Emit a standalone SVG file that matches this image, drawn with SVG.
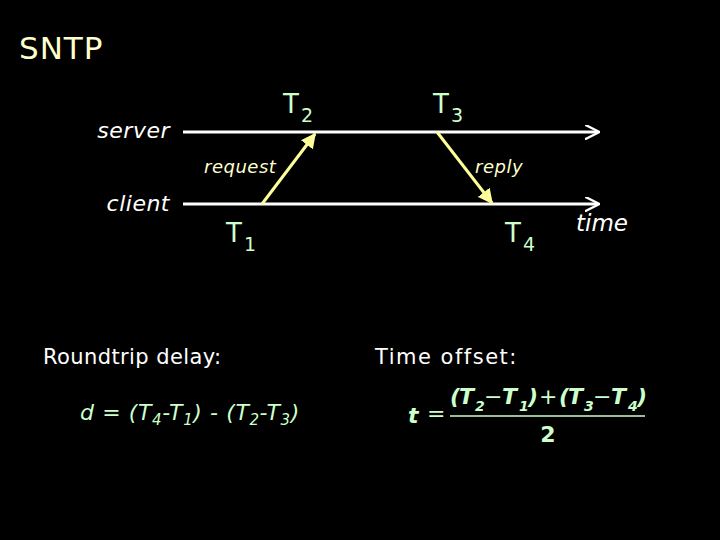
<svg xmlns="http://www.w3.org/2000/svg" width="720" height="540" viewBox="0 0 720 540">
<defs>
<style>
text{font-family:"DejaVu Sans","Liberation Sans",sans-serif}
.t{fill:#ccffcc;font-size:26px}
.w{fill:#ffffff}
.it{font-style:italic}
.line{stroke:#ffffff;stroke-width:3;fill:none}
.msg{stroke:#ffff99;stroke-width:3;fill:none}
.f{fill:#ccffcc;font-weight:bold;font-size:22px}
.fi{font-style:italic}
.up{font-style:normal;font-weight:normal}
.s{font-size:14px}
</style>
<marker id="wa" viewBox="0 0 10 10" refX="9" refY="5" markerWidth="5" markerHeight="5" orient="auto" markerUnits="strokeWidth"><path d="M0,0 L10,5 L0,10" fill="none" stroke="#ffffff" stroke-width="1.6"/></marker>
<marker id="ya" viewBox="0 0 10 10" refX="9" refY="5" markerWidth="5" markerHeight="5" orient="auto" markerUnits="strokeWidth"><path d="M0,0 L10,5 L0,10 Z" fill="#ffff99"/></marker>
</defs>
<rect width="720" height="540" fill="#000000"/>
<text x="19" y="59" font-size="31" fill="#ffffcc" letter-spacing="1">SNTP</text>
<g id="server"><text x="170" y="138" font-size="22" class="w it" text-anchor="end" letter-spacing="0.5">server</text></g>
<g id="client"><text x="170" y="211" font-size="22" class="w it" text-anchor="end" letter-spacing="0.5">client</text></g>
<g id="connectors">
<line class="line" x1="183" y1="132" x2="598" y2="132" marker-end="url(#wa)"/>
<line class="line" x1="183" y1="204" x2="598" y2="204" marker-end="url(#wa)"/>
<line class="msg" x1="262" y1="204" x2="315" y2="134" marker-end="url(#ya)"/>
<line class="msg" x1="437" y1="132" x2="492" y2="203" marker-end="url(#ya)"/>
</g>
<text x="204" y="173" font-size="18" fill="#ffffcc" class="it" letter-spacing="0.5">request</text>
<text x="475" y="173" font-size="18" fill="#ffffcc" class="it" letter-spacing="0.5">reply</text>
<g id="T2"><text x="283" y="113" class="t">T<tspan font-size="19" dx="2" dy="9">2</tspan></text></g>
<g id="T3"><text x="433" y="113" class="t">T<tspan font-size="19" dx="2" dy="9">3</tspan></text></g>
<g id="T1"><text x="226" y="242" class="t">T<tspan font-size="19" dx="2" dy="9">1</tspan></text></g>
<g id="T4"><text x="505" y="242" class="t">T<tspan font-size="19" dx="2" dy="9">4</tspan></text></g>
<text x="576" y="231" font-size="23" class="w it">time</text>
<text x="43" y="364" font-size="21" class="w" letter-spacing="0.4">Roundtrip delay:</text>
<text x="375" y="364" font-size="21" class="w" letter-spacing="1.5">Time offset:</text>
<text x="80" y="420" font-size="22" fill="#ccffcc" class="it" letter-spacing="0.6">d = (T<tspan font-size="15" dy="5">4</tspan><tspan dy="-5">-T</tspan><tspan font-size="15" dy="5">1</tspan><tspan dy="-5">) - (T</tspan><tspan font-size="15" dy="5">2</tspan><tspan dy="-5">-T</tspan><tspan font-size="15" dy="5">3</tspan><tspan dy="-5">)</tspan></text>
<text x="408" y="423" class="f fi" font-size="25">t</text>
<text x="427" y="421" class="f up" font-size="24">=</text>
<line x1="450" y1="416" x2="645" y2="416" stroke="#ccffcc" stroke-width="1.5"/>
<text y="404" class="f fi"><tspan x="450">(</tspan><tspan x="459">T</tspan><tspan x="475" y="411" class="s">2</tspan><tspan x="484" y="404" class="up">−</tspan><tspan x="502">T</tspan><tspan x="519" y="411" class="s">1</tspan><tspan x="528" y="404">)</tspan><tspan x="539" class="up">+</tspan><tspan x="559">(</tspan><tspan x="568">T</tspan><tspan x="584" y="411" class="s">3</tspan><tspan x="593" y="404" class="up">−</tspan><tspan x="611">T</tspan><tspan x="628" y="411" class="s">4</tspan><tspan x="637" y="404">)</tspan></text>
<text x="548" y="442" class="f" font-size="25" text-anchor="middle">2</text>
</svg>
